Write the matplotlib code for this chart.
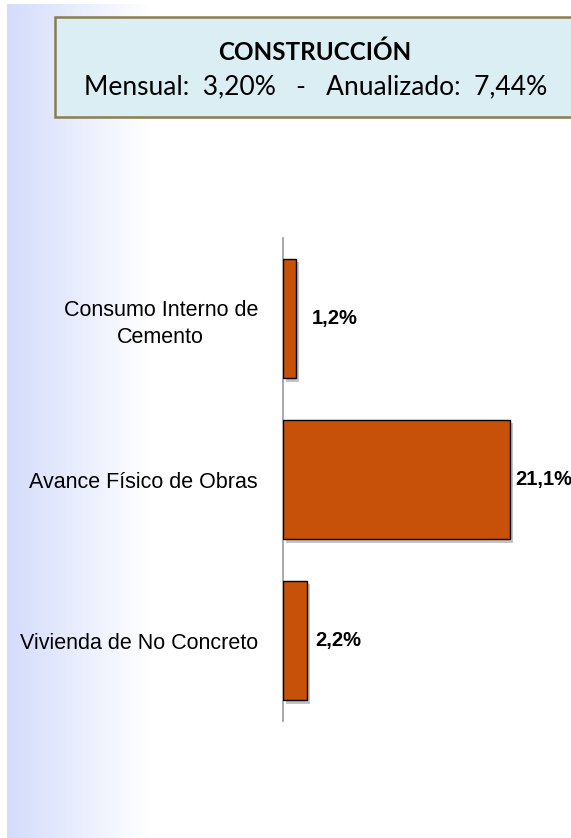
import matplotlib.pyplot as plt
import matplotlib.patheffects as pe
import numpy as np
from matplotlib.patches import Rectangle
from matplotlib.colors import LinearSegmentedColormap

# data
categorias = ["Consumo Interno de\nCemento", "Avance Físico de Obras", "Vivienda de No Concreto"]
valores = [1.2, 21.1, 2.2]
etiquetas = ["1,2%", "21,1%", "2,2%"]
titulo = "CONSTRUCCIÓN"
subtitulo = "Mensual:  3,20%   -   Anualizado:  7,44%"

W, H = 571, 838
fig = plt.figure(figsize=(W / 100, H / 100), dpi=100)

# fondo con degradado a la izquierda
bg = fig.add_axes([0, 0, 1, 1])
bg.set_xlim(0, W)
bg.set_ylim(H, 0)
bg.axis("off")
grad = np.linspace(0, 1, 256)[None, :]
cmap = LinearSegmentedColormap.from_list("g", ["#d3dcfb", "#ffffff"])
bg.imshow(grad, cmap=cmap, extent=[7, 150, H, 5], aspect="auto")

# caja del titulo
bg.add_patch(Rectangle((55, 17), 530, 100, facecolor="#daeef3", edgecolor="#8b7d4f", lw=1.8))
bg.text(315, 60, titulo, ha="center", va="baseline", fontsize=17.5, fontweight="bold",
        family="Lato")
bg.text(316, 94, subtitulo, ha="center", va="baseline", fontsize=19, family="Lato")

# grafico de barras
ax_left = 283 / W
ax_bottom, ax_top = 1 - 721 / H, 1 - 238 / H
ax = fig.add_axes([ax_left, ax_bottom, 1 - ax_left, ax_top - ax_bottom])
ax.patch.set_alpha(0)
y = np.arange(len(categorias))
bars = ax.barh(y, valores, height=0.74, color="#c75108", edgecolor="black", lw=1.0, zorder=3)
for b in bars:
    b.set_path_effects([pe.SimplePatchShadow(offset=(2.5, -2.5), shadow_rgbFace="#888888", alpha=0.5),
                        pe.Normal()])
ax.set_ylim(2.5, -0.5)
ax.set_xlim(0, (W - 283) / (227 / 21.1))
for s in ["top", "right", "bottom"]:
    ax.spines[s].set_visible(False)
ax.spines["left"].set_color("#9a9a9a")
ax.spines["left"].set_linewidth(1.2)
ax.set_xticks([])
ax.set_yticks(y)
ax.set_yticklabels(categorias, family="Liberation Sans", fontsize=15.5)
for lbl in ax.get_yticklabels():
    lbl.set_multialignment("center")
    lbl.set_linespacing(1.35)
ax.tick_params(axis="y", length=0, pad=18)

gaps = [16, 5, 9]  # separacion en px entre barra y etiqueta
for yi, v, t, g in zip(y, valores, etiquetas, gaps):
    ax.annotate(t, (v, yi), xytext=(g * 0.72, 0), textcoords="offset points",
                va="center", ha="left", fontsize=14.5, fontweight="bold",
                family="Liberation Sans", annotation_clip=False)

fig.savefig("out.png", dpi=100)
